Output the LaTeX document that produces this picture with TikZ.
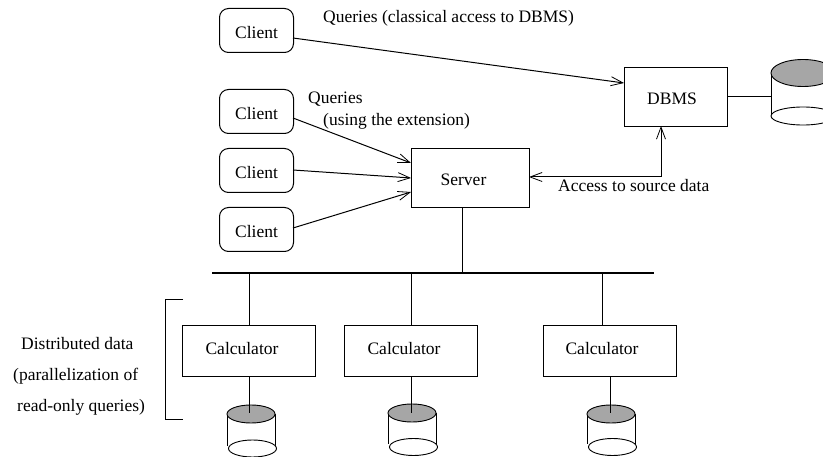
\documentclass[tikz,border=0pt]{standalone}
\usepackage{fontspec}
\setmainfont{Liberation Serif}
\usetikzlibrary{arrows.meta,positioning}
\tikzset{
  x=1pt,y=-1pt,
  lbl/.style={inner sep=0pt,anchor=base west,font=\fontsize{17.5}{20}\selectfont},
  box/.style={draw,line width=1pt,inner sep=0pt,font=\fontsize{17.5}{20}\selectfont,anchor=north west},
  client/.style={box,rounded corners=9pt,minimum width=74pt,minimum height=44pt,text height=16pt,text depth=0pt},
  midbox/.style={box,minimum height=59pt,text height=15pt,text depth=0pt},
  calc/.style={box,minimum width=133pt,minimum height=51pt,text height=12pt,text depth=5pt},
  conn/.style={line width=1pt},
  arr/.style={line width=1pt,-{Straight Barb[length=12pt,width=9pt,line width=.8pt]}},
  biarr/.style={line width=1pt,{Straight Barb[length=12pt,width=9pt,line width=.8pt]}-{Straight Barb[length=12pt,width=9pt,line width=.8pt]}},
  bus/.style={line width=1.7pt},
  pics/disk/.style 2 args={code={
    \draw[line width=.9pt] (-24,0) -- (-24,#2-3) (24,0) -- (24,#2);
    \draw[line width=.9pt,fill=white] (#1,#2) ellipse [x radius=24,y radius=8.5];
    \draw[line width=.9pt,fill=black!35] (0,0) ellipse [x radius=24,y radius=9];
  }}
}
\begin{document}
\begin{tikzpicture}
\useasboundingbox (0,0) rectangle (823,457);
\clip (0,0) rectangle (823,457);
\node[client] (c1) at (219,8) {Client};
\node[client] (c2) at (219,89) {Client};
\node[client] (c3) at (219,148) {Client};
\node[client] (c4) at (219,207) {Client};
\node[midbox,minimum width=118pt] (srv) at (411,148) {Server\hspace*{14pt}};
\node[midbox,minimum width=103pt] (db) at (624,67) {DBMS\hspace*{8pt}};
\node[calc] (k1) at (182,325) {Calculator\hspace*{14pt}};
\node[calc] (k2) at (344,325) {Calculator\hspace*{14pt}};
\node[calc] (k3) at (543,325) {Calculator\hspace*{16pt}};
\coordinate (bl) at (212,273);
\coordinate (br) at (654,273);
\draw[bus] (bl) -- (br);
\coordinate (bs) at (462.5,273);
\coordinate (b1) at (249,273);
\coordinate (b2) at (411,273);
\coordinate (b3) at (602,273);
\draw[conn] (srv.south -| bs) -- (bs);
\draw[conn] (b1) -- (b1 |- k1.north);
\draw[conn] (b2) -- (b2 |- k2.north);
\draw[conn] (b3) -- (b3 |- k3.north);
% large disk, cut by the right edge
\draw[line width=.9pt] (771,73) -- (771,116);
\draw[line width=.9pt,fill=white] (803,116) ellipse [x radius=32,y radius=9];
\draw[line width=.9pt,fill=black!35] (803,73) ellipse [x radius=32,y radius=13.5];
\pic at (251,414) {disk={1.5}{34.5}};
\pic at (412,413) {disk={1.5}{34}};
\pic at (611,414) {disk={1.5}{33}};
\coordinate (d0) at (771,97);
\coordinate (d1) at (249,413);
\coordinate (d2) at (411,413);
\coordinate (d3) at (610,413);
\draw[conn] (db.east |- d0) -- (d0);
\draw[conn] (d1 |- k1.south) -- (d1);
\draw[conn] (d2 |- k2.south) -- (d2);
\draw[conn] (d3 |- k3.south) -- (d3);
\coordinate (a1) at (293,38);
\coordinate (a2) at (624,83);
\draw[arr] (a1) -- (a2);
\coordinate (a3) at (293,118);
\coordinate (a4) at (411,163);
\draw[arr] (a3) -- (a4);
\coordinate (a5) at (293,170);
\coordinate (a6) at (411,178);
\draw[arr] (a5) -- (a6);
\coordinate (a7) at (293,228);
\coordinate (a8) at (411,192);
\draw[arr] (a7) -- (a8);
\coordinate (a9) at (529,177);
\coordinate (a10) at (661,126);
\draw[biarr] (a9) -- (a10 |- a9) -- (a10);
\coordinate (br1) at (183,299.5);
\coordinate (br2) at (165,299.5);
\coordinate (br3) at (165,419);
\coordinate (br4) at (183,419);
\draw[line width=.9pt] (br1) -- (br2) -- (br3) -- (br4);
\node[lbl] (t1) at (323,23) {Queries (classical access to DBMS)};
\node[lbl] (t2) at (308,104) {Queries};
\node[lbl] (t3) at (323,126) {(using the extension)};
\node[lbl] (t4) at (558,192) {Access to source data};
\node[lbl] (t5) at (21,350) {Distributed data};
\node[lbl] (t6) at (13,381) {(parallelization of};
\node[lbl] (t7) at (17,412) {read-only queries)};
\end{tikzpicture}
\end{document}
